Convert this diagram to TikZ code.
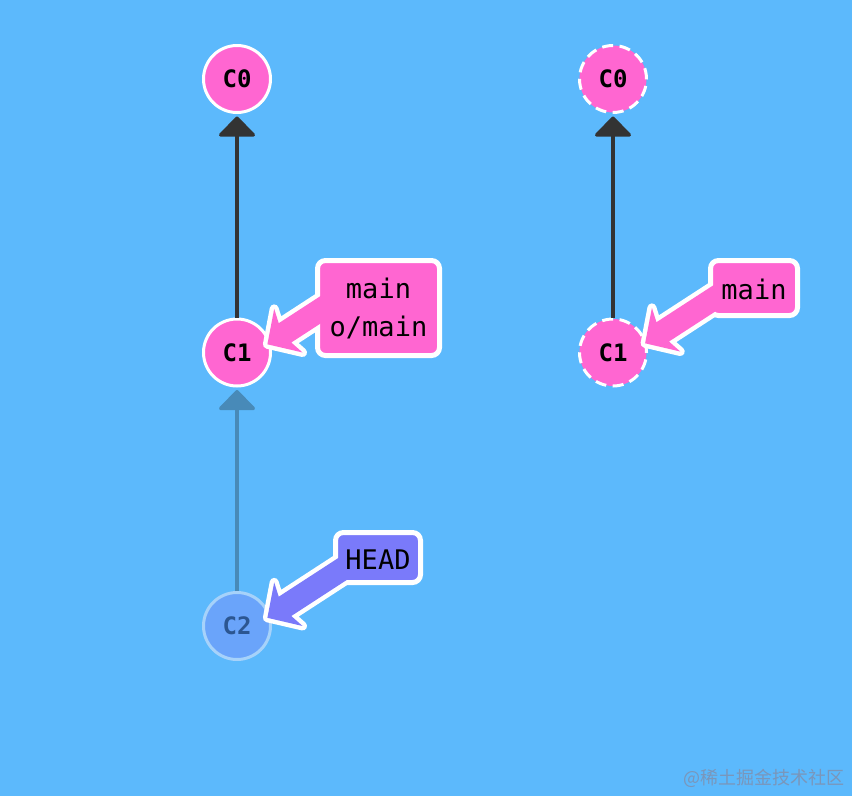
\documentclass[tikz,border=0pt]{standalone}
\usepackage{fontspec}
\setmonofont{DejaVu Sans Mono}
\newfontfamily\cjk{Noto Sans CJK SC}
\usetikzlibrary{calc,arrows.meta}
\definecolor{bgblue}{RGB}{92,185,252}
\definecolor{cpink}{RGB}{255,102,209}
\definecolor{cheadv}{RGB}{122,122,250}
\definecolor{edgedark}{RGB}{51,51,51}
\definecolor{fadefill}{RGB}{106,164,250}
\definecolor{fadeborder}{RGB}{166,210,250}
\definecolor{fadetext}{RGB}{44,86,145}
\definecolor{fadeedgec}{RGB}{72,138,184}
\definecolor{wmark}{RGB}{122,150,186}
\tikzset{
 commit/.style={circle, minimum size=67pt, inner sep=0pt, fill=cpink, draw=white, line width=3pt, font=\ttfamily\bfseries\fontsize{24}{24}\selectfont},
 dashcommit/.style={commit, dash pattern=on 11pt off 6.5pt},
 fadecommit/.style={commit, fill=fadefill, draw=fadeborder, text=fadetext},
 parentedge/.style={draw=edgedark, line width=3.5pt, -{Triangle[round,width=40pt,length=21pt]}, shorten >=2.5pt},
 fadeedge/.style={parentedge, draw=fadeedgec},
 labelbox/.style={rectangle, rounded corners=8pt, fill=#1, draw=white, line width=5pt, inner sep=0pt},
 labelbox/.default=cpink,
 labeltext/.style={font=\ttfamily\fontsize{27}{38}\selectfont, align=center, inner sep=0pt},
 ptrstroke/.style={draw=white, line width=9pt, line join=round, fill=#1},
 ptrfill/.style={fill=#1},
}
% #1 prefix, #2 start, #3 tip, #4 style
\newcommand\branchptr[4]{%
  \coordinate (#1hb) at ($(#3)!25pt!(#2)$);
  \coordinate (#1jb) at ($(#3)!21pt!(#2)$);
  \coordinate (#1h1) at ($(#1hb)!26pt!90:(#3)$);
  \coordinate (#1h2) at ($(#1hb)!26pt!-90:(#3)$);
  \coordinate (#1j1) at ($(#1jb)!11.5pt!90:(#3)$);
  \coordinate (#1j2) at ($(#1jb)!11.5pt!-90:(#3)$);
  \coordinate (#1s1) at ($(#2)!11.5pt!90:(#3)$);
  \coordinate (#1s2) at ($(#2)!11.5pt!-90:(#3)$);
  \path[#4] (#3) -- (#1h1) -- (#1j1) -- (#1s1) -- (#1s2) -- (#1j2) -- (#1h2) -- cycle;
}
\begin{document}
\begin{tikzpicture}[x=1pt,y=-1pt]
\fill[bgblue] (0,0) rectangle (852,796);
\useasboundingbox (0,0) rectangle (852,796);

% commits
\node[commit] (lc0) at (237,79) {C0};
\node[commit] (lc1) at (237,352.5) {C1};
\node[fadecommit] (lc2) at (237,626) {C2};
\node[dashcommit] (rc0) at (613,79) {C0};
\node[dashcommit] (rc1) at (613,352.5) {C1};

% parent edges
\draw[parentedge] (lc1) -- (lc0);
\draw[fadeedge] (lc2) -- (lc1);
\draw[parentedge] (rc1) -- (rc0);

% pointer end points
\coordinate (ps1) at (332.8,301.8);
\coordinate (pt1) at (267.4,344.3);
\coordinate (ps2) at (720.6,294.3);
\coordinate (pt2) at (645.1,343.3);
\coordinate (ps3) at (347.1,566);
\coordinate (pt3) at (267.4,617.8);

% pointer outlines
\branchptr{a}{ps1}{pt1}{ptrstroke=cpink}
\branchptr{b}{ps2}{pt2}{ptrstroke=cpink}
\branchptr{c}{ps3}{pt3}{ptrstroke=cheadv}

% label boxes
\node[labelbox, minimum width=122pt, minimum height=95pt] (bmain) at (378.5,308) {};
\node[labelbox, minimum width=87pt, minimum height=55pt] (rmain) at (754,288) {};
\node[labelbox=cheadv, minimum width=85pt, minimum height=50pt] (bhead) at (378,557.5) {};

% pointer fills over box borders
\branchptr{d}{ps1}{pt1}{ptrfill=cpink}
\branchptr{e}{ps2}{pt2}{ptrfill=cpink}
\branchptr{f}{ps3}{pt3}{ptrfill=cheadv}

% label texts
\node[labeltext] (tmain) at (bmain.center) {main\\o/main};
\node[labeltext] (trmain) at (754,289) {main};
\node[labeltext] (thead) at (378,560) {HEAD};

% watermark
\node[anchor=east, text=wmark, font=\cjk\fontsize{18}{18}\selectfont, inner sep=0pt] (wm) at (845,778) {@稀土掘金技术社区};
\end{tikzpicture}
\end{document}
